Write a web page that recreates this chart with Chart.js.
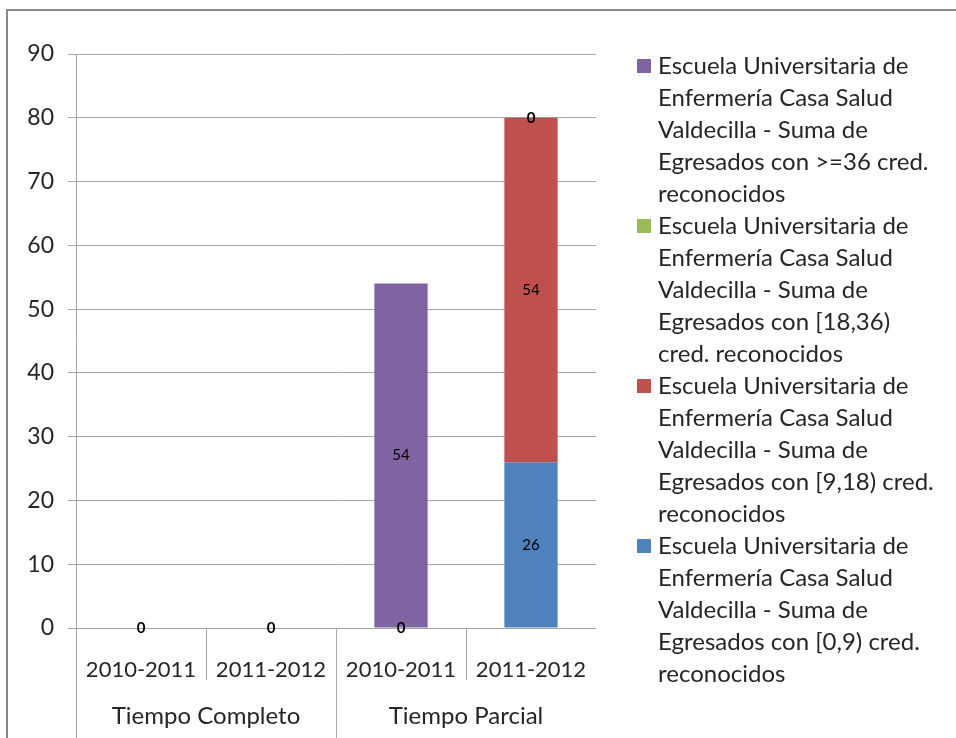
<!DOCTYPE html>
<html>
<head>
<meta charset="utf-8">
<script src="https://cdn.jsdelivr.net/npm/chart.js@4"></script>
<style>
  html, body { margin: 0; padding: 0; background: #fff; }
  #wrap { width: 956px; height: 738px; }
</style>
</head>
<body>
<div id="wrap"><canvas id="myChart" width="956" height="738"></canvas></div>
<script>
// categories and groups of the two-level x axis
var categories = ['2010-2011', '2011-2012', '2010-2011', '2011-2012'];
var groups = ['Tiempo Completo', 'Tiempo Parcial'];
var groupSize = 2;

// series values (stack order: bottom to top)
var cred0_9 = [0, 0, 0, 26];
var cred9_18 = [null, null, null, 54];
var cred18_36 = [null, null, null, null];
var cred36 = [null, null, 54, 0];

// series names, already split in lines as in the legend
var name0_9 = ['Escuela Universitaria de', 'Enfermería Casa Salud', 'Valdecilla - Suma de', 'Egresados con [0,9) cred.', 'reconocidos'];
var name9_18 = ['Escuela Universitaria de', 'Enfermería Casa Salud', 'Valdecilla - Suma de', 'Egresados con [9,18) cred.', 'reconocidos'];
var name18_36 = ['Escuela Universitaria de', 'Enfermería Casa Salud', 'Valdecilla - Suma de', 'Egresados con [18,36)', 'cred. reconocidos'];
var name36 = ['Escuela Universitaria de', 'Enfermería Casa Salud', 'Valdecilla - Suma de', 'Egresados con >=36 cred.', 'reconocidos'];

var yTicks = { min: 0, max: 90, step: 10 };

var FONT = 'Lato';
var TEXT = '#262626';
var LINE = '#a6a6a6';

// frame, group axis, legend and value labels
var decoPlugin = {
    id: 'deco',
    beforeDraw: function (chart) {
        var ctx = chart.ctx;
        ctx.save();
        ctx.fillStyle = '#fff';
        ctx.fillRect(0, 0, chart.width, chart.height);
        ctx.strokeStyle = '#888';
        ctx.lineWidth = 2;
        ctx.strokeRect(7, 10, chart.width + 10, chart.height + 10);
        ctx.restore();
    },
    afterDraw: function (chart) {
        var ctx = chart.ctx;
        var area = chart.chartArea;
        var step = (area.right - area.left) / categories.length;
        ctx.save();
        ctx.strokeStyle = LINE;
        ctx.lineWidth = 1;
        for (var i = 0; i < categories.length; i++) {
            var bx = Math.round(area.left + i * step) + 0.5;
            var long = i % groupSize === 0;
            ctx.beginPath();
            ctx.moveTo(bx, area.bottom);
            ctx.lineTo(bx, long ? chart.height : area.bottom + 52);
            ctx.stroke();
        }
        ctx.fillStyle = TEXT;
        ctx.font = '24px ' + FONT;
        ctx.textAlign = 'center';
        ctx.textBaseline = 'middle';
        for (var g = 0; g < groups.length; g++) {
            var cx = area.left + (g * groupSize + groupSize / 2) * step;
            ctx.fillText(groups[g], cx, area.bottom + 88);
        }

        // legend, reversed like the stack
        var dsets = chart.data.datasets;
        var ly = 66;
        ctx.textAlign = 'left';
        ctx.font = '24px ' + FONT;
        for (var d = dsets.length - 1; d >= 0; d--) {
            var lines = dsets[d].nameLines;
            ctx.fillStyle = dsets[d].backgroundColor;
            ctx.fillRect(637, ly - 7, 14, 14);
            ctx.fillStyle = TEXT;
            for (var k = 0; k < lines.length; k++) {
                ctx.fillText(lines[k], 658, ly + k * 32);
            }
            ly += lines.length * 32;
        }
        ctx.restore();
    },
    afterDatasetsDraw: function (chart) {
        var ctx = chart.ctx;
        ctx.save();
        ctx.fillStyle = '#000';
        ctx.textAlign = 'center';
        ctx.textBaseline = 'middle';
        chart.data.datasets.forEach(function (ds, i) {
            var meta = chart.getDatasetMeta(i);
            meta.data.forEach(function (el, j) {
                var v = ds.data[j];
                if (v === null || v === undefined) return;
                ctx.font = (v === 0 ? 'bold ' : '') + '15px ' + FONT;
                ctx.fillText(String(v), el.x, (el.y + el.base) / 2);
            });
        });
        ctx.restore();
    }
};

function renderChart() {
    var ctx = document.getElementById('myChart').getContext('2d');
    var myChart = new Chart(ctx, {
        type: 'bar',
        data: {
            labels: categories,
            datasets: [
                { label: name0_9.join(' '), nameLines: name0_9, data: cred0_9, backgroundColor: '#4F81BD' },
                { label: name9_18.join(' '), nameLines: name9_18, data: cred9_18, backgroundColor: '#C0504D' },
                { label: name18_36.join(' '), nameLines: name18_36, data: cred18_36, backgroundColor: '#9BBB59' },
                { label: name36.join(' '), nameLines: name36, data: cred36, backgroundColor: '#8064A2' }
            ]
        },
        options: {
            responsive: false,
            animation: false,
            categoryPercentage: 1,
            barPercentage: 0.41,
            layout: { padding: { left: 0, top: 54, right: 360, bottom: 0 } },
            plugins: {
                legend: { display: false },
                tooltip: { enabled: false }
            },
            scales: {
                x: {
                    stacked: true,
                    afterFit: function (s) { s.height = 110; },
                    grid: { display: false },
                    border: { display: false },
                    ticks: { color: TEXT, font: { family: FONT, size: 22 }, padding: 21, maxRotation: 0 }
                },
                y: {
                    stacked: true,
                    min: yTicks.min,
                    max: yTicks.max,
                    afterFit: function (s) { s.width = 76; },
                    grid: { color: LINE, tickLength: 8 },
                    border: { color: LINE },
                    ticks: { stepSize: yTicks.step, color: TEXT, font: { family: FONT, size: 23 }, padding: 14 }
                }
            }
        },
        plugins: [decoPlugin]
    });
}

renderChart();
</script>
</body>
</html>
